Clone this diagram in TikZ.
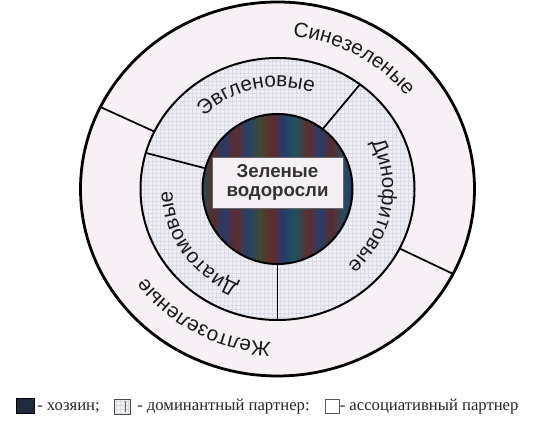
\documentclass[tikz,border=0pt]{standalone}
\usepackage{fontspec}
\setmainfont{Liberation Serif}
\setsansfont{Liberation Sans}
\usetikzlibrary{decorations.text,patterns,calc}
\definecolor{ringout}{HTML}{F7F1F6}
\definecolor{ringmid}{HTML}{F2EEF4}
\definecolor{gridc}{HTML}{D8DAE4}
\definecolor{lbl}{HTML}{1A1A1A}
\definecolor{hostsq}{HTML}{1F2B3C}
\definecolor{boxfill}{HTML}{F4F0F3}
\pgfdeclarehorizontalshading{hoststripes}{100bp}{%
 rgb(0bp)=(0.14,0.30,0.36);
 rgb(25bp)=(0.14,0.30,0.36);
 rgb(28bp)=(0.36,0.17,0.16);
 rgb(32bp)=(0.15,0.23,0.40);
 rgb(36bp)=(0.37,0.17,0.17);
 rgb(40bp)=(0.14,0.26,0.42);
 rgb(44bp)=(0.24,0.29,0.20);
 rgb(48bp)=(0.38,0.17,0.16);
 rgb(52bp)=(0.14,0.24,0.42);
 rgb(56bp)=(0.13,0.32,0.36);
 rgb(60bp)=(0.38,0.18,0.17);
 rgb(64bp)=(0.15,0.24,0.42);
 rgb(68bp)=(0.36,0.17,0.17);
 rgb(72bp)=(0.13,0.31,0.37);
 rgb(75bp)=(0.16,0.22,0.40);
 rgb(100bp)=(0.16,0.22,0.40)}
\newcommand\ringfont{\sffamily\fontsize{15.5}{15.5}\selectfont\color{lbl}}
\tikzset{
 outerline/.style={line width=2.1pt, draw=black},
 ringline/.style={line width=1.5pt, draw=black},
 divider/.style={line width=1.3pt, draw=black},
 hostbox/.style={fill=boxfill, draw=black!60, line width=0.4pt, inner sep=0pt,
   minimum width=98.25pt, minimum height=38.25pt, align=center,
   font=\sffamily\bfseries\fontsize{14}{14.3}\selectfont, text=black!80},
 legsq/.style={line width=0.7pt},
 legtext/.style={anchor=base west, inner sep=0pt, font=\fontsize{12.5}{12.5}\selectfont, text=black!85}
}
\begin{document}
\begin{tikzpicture}[x=0.75pt,y=0.75pt]
\useasboundingbox (0,0) rectangle (553,425);
\fill[white] (0,0) rectangle (553,425);
\coordinate (c) at (277.5,236);
% outer ring
\filldraw[fill=ringout, outerline] (c) ellipse [x radius=197, y radius=187];
% middle ring
\fill[ringmid] (c) ellipse [x radius=137, y radius=131];
\fill[pattern=grid, pattern color=gridc] (c) ellipse [x radius=137, y radius=131];
\draw[ringline] (c) ellipse [x radius=137, y radius=131];
% host
\shade[shading=hoststripes] (c) circle [radius=75];
\draw[ringline] (c) circle [radius=75];
% dividers
\coordinate (o1) at ($(c)+(154:197 and 187)$);
\coordinate (m1) at ($(c)+(154:137 and 131)$);
\coordinate (o2) at ($(c)+(-27:197 and 187)$);
\coordinate (m2) at ($(c)+(-27:137 and 131)$);
\coordinate (m3) at ($(c)+(53:137 and 131)$);
\coordinate (h3) at ($(c)+(53:75 and 75)$);
\coordinate (m4) at ($(c)+(164:137 and 131)$);
\coordinate (h4) at ($(c)+(164:75 and 75)$);
\coordinate (m5) at ($(c)+(-90:137 and 131)$);
\coordinate (h5) at ($(c)+(-90:75 and 75)$);
\draw[divider] (o1) -- (m1);
\draw[divider] (o2) -- (m2);
\draw[divider] (m3) -- (h3);
\draw[divider] (m4) -- (h4);
\draw[divider] (m5) -- (h5);
% center label
\node[hostbox] (host) at (277.5,242.5) {Зеленые\\водоросли};
% ring labels
\path[decorate, decoration={text along path, text align=center, text={|\ringfont|Синезеленые}}]
  ($(c)+(105:162 and 153)$) arc [start angle=105, end angle=16, x radius=162, y radius=153];
\path[decorate, decoration={text along path, text align=center, text={|\ringfont|Желтозеленые}}]
  ($(c)+(-70:162 and 153)$) arc [start angle=-70, end angle=-168, x radius=162, y radius=153];
\path[decorate, decoration={text along path, text align=center, text={|\ringfont|Эвгленовые}}]
  ($(c)+(152:105 and 102)$) arc [start angle=152, end angle=53, x radius=105, y radius=102];
\path[decorate, decoration={text along path, text align=center, text={|\ringfont|Динофитовые}}]
  ($(c)+(45:105 and 102)$) arc [start angle=45, end angle=-66, x radius=105, y radius=102];
\path[decorate, decoration={text along path, text align=center, text={|\ringfont|Диатомовые}}]
  ($(c)+(-95:105 and 102)$) arc [start angle=-95, end angle=-196, x radius=105, y radius=102];
% legend
\filldraw[fill=hostsq, draw=black, legsq] (16,12) rectangle (34,27);
\node[legtext] (l1) at (37,15) {- хозяин;};
\fill[ringmid] (114,11) rectangle (130,26);
\fill[pattern=grid, pattern color=gridc] (114,11) rectangle (130,26);
\draw[draw=black!70, legsq] (114,11) rectangle (130,26);
\draw[draw=black!60, line width=0.5pt] (125,13) -- (125,24);
\node[legtext] (l2) at (137,15) {- доминантный партнер:};
\filldraw[fill=white, draw=black!65, legsq] (325,12) rectangle (339,26);
\node[legtext] (l3) at (339.5,15) {- ассоциативный партнер};
\end{tikzpicture}
\end{document}
